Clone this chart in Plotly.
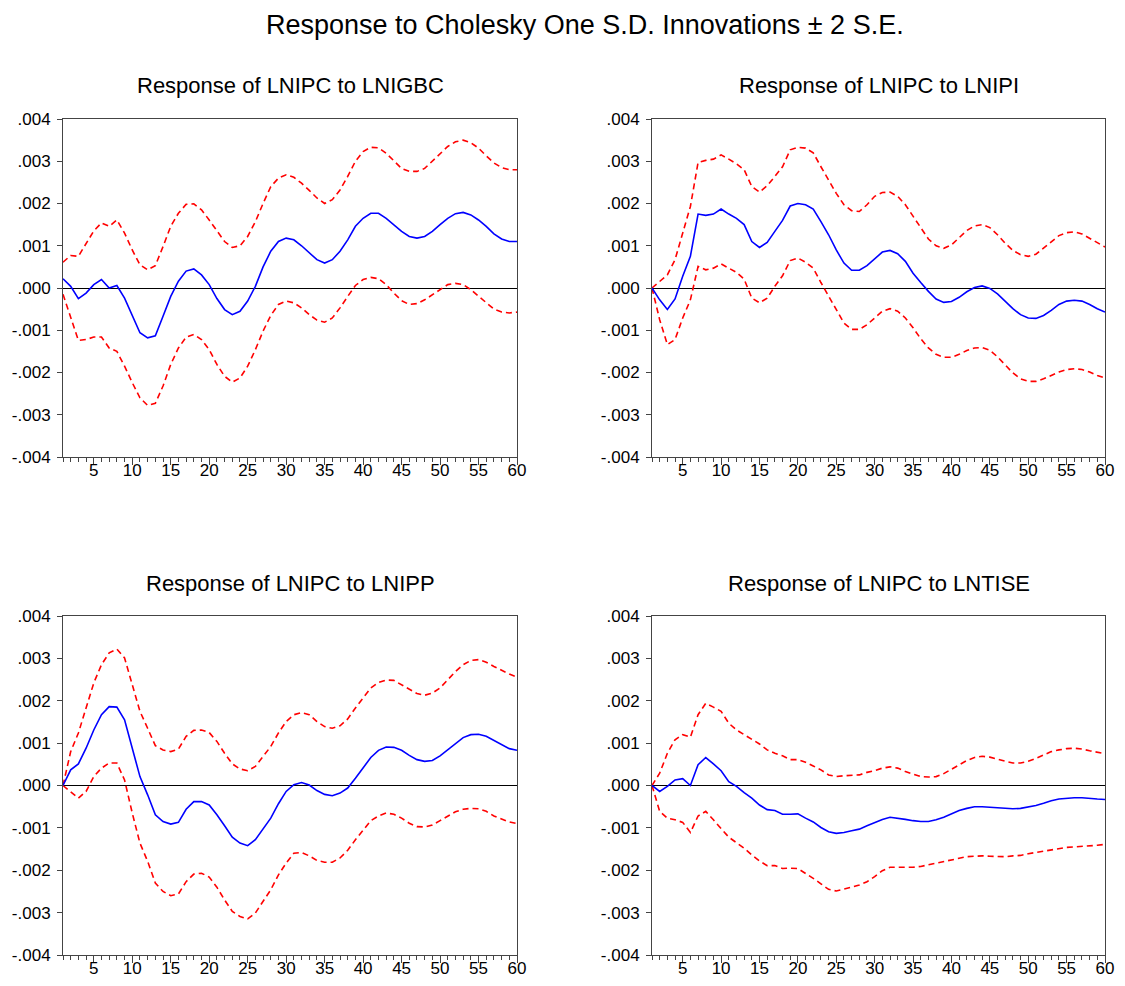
import plotly.graph_objects as go

periods = list(range(1, 61))

titles = ["Response of LNIPC to LNIGBC", "Response of LNIPC to LNIPI",
          "Response of LNIPC to LNIPP", "Response of LNIPC to LNTISE"]
main_title = "Response to Cholesky One S.D. Innovations \u00b1 2 S.E."

ytick_vals = [-0.004, -0.003, -0.002, -0.001, 0.0, 0.001, 0.002, 0.003, 0.004]
ytick_text = ["-.004", "-.003", "-.002", "-.001", ".000", ".001", ".002", ".003", ".004"]
xtick_vals = [5, 10, 15, 20, 25, 30, 35, 40, 45, 50, 55, 60]

p1_mid = [0.00022, 0.00004, -0.00025, -0.00012, 0.00008, 0.0002, 0.0, 0.00006, -0.00024, -0.00063,
          -0.00106, -0.00118, -0.00113, -0.00067, -0.0002, 0.00016, 0.0004, 0.00045, 0.00031, 0.00008,
          -0.00025, -0.00051, -0.00063, -0.00055, -0.00031, 0.00004, 0.0005, 0.00087, 0.0011, 0.00118,
          0.00114, 0.001, 0.00083, 0.00067, 0.00059, 0.00067, 0.00087, 0.00114, 0.00146, 0.00165,
          0.00177, 0.00177, 0.00165, 0.0015, 0.00134, 0.00122, 0.00118, 0.00122, 0.00134, 0.0015,
          0.00165, 0.00176, 0.00179, 0.00173, 0.00161, 0.00146, 0.00128, 0.00116, 0.0011, 0.0011]
p1_up = [0.00061, 0.00077, 0.00075, 0.00106, 0.00135, 0.00154, 0.00146, 0.00161, 0.0013, 0.0009,
         0.00055, 0.00043, 0.00053, 0.00098, 0.00146, 0.00177, 0.00198, 0.00199, 0.00185, 0.00161,
         0.00134, 0.0011, 0.00096, 0.001, 0.00122, 0.00157, 0.002, 0.0024, 0.0026, 0.00268,
         0.00262, 0.00248, 0.00231, 0.00213, 0.002, 0.00209, 0.00232, 0.00264, 0.003, 0.00323,
         0.00333, 0.00332, 0.00319, 0.003, 0.00283, 0.00276, 0.00276, 0.00283, 0.003, 0.00319,
         0.00335, 0.00346, 0.0035, 0.00344, 0.00331, 0.00313, 0.00296, 0.00285, 0.0028, 0.0028]
p1_lo = [-0.00015, -0.00067, -0.00124, -0.00122, -0.00116, -0.00116, -0.00142, -0.0015, -0.00185, -0.00224,
         -0.0026, -0.00278, -0.00273, -0.00232, -0.00181, -0.00142, -0.00116, -0.0011, -0.00122, -0.00146,
         -0.00181, -0.00209, -0.00223, -0.00213, -0.00185, -0.00146, -0.00102, -0.00065, -0.00039, -0.00031,
         -0.00035, -0.00047, -0.00063, -0.00076, -0.00081, -0.00071, -0.00047, -0.0002, 0.00006, 0.0002,
         0.00025, 0.00022, 0.00008, -0.00012, -0.0003, -0.00039, -0.00037, -0.00028, -0.00016, -0.00002,
         0.00008, 0.00011, 0.00008, -0.00004, -0.0002, -0.00035, -0.0005, -0.00057, -0.00059, -0.00057]

p2_mid = [0.0, -0.00028, -0.00051, -0.00026, 0.00028, 0.00075, 0.00175, 0.00172, 0.00175, 0.00187,
          0.00175, 0.00165, 0.0015, 0.0011, 0.00096, 0.00108, 0.00134, 0.0016, 0.00194, 0.002,
          0.00197, 0.00187, 0.00157, 0.00126, 0.0009, 0.00059, 0.00042, 0.00042, 0.00053, 0.00069,
          0.00085, 0.00089, 0.00081, 0.00063, 0.00035, 0.00013, -0.00008, -0.00026, -0.00034, -0.00032,
          -0.00022, -0.00009, 0.00001, 0.00005, -0.00001, -0.00014, -0.00031, -0.00049, -0.00063, -0.00071,
          -0.00072, -0.00065, -0.00053, -0.00039, -0.00031, -0.00029, -0.00031, -0.00039, -0.00049, -0.00057]
p2_up = [0.0, 0.00016, 0.00031, 0.00067, 0.0013, 0.00193, 0.00297, 0.00302, 0.00305, 0.00315,
         0.00305, 0.00294, 0.0028, 0.0024, 0.00227, 0.00242, 0.00264, 0.00287, 0.00327, 0.00333,
         0.00331, 0.0032, 0.00287, 0.00256, 0.00224, 0.00197, 0.00183, 0.00181, 0.00197, 0.00217,
         0.00226, 0.00227, 0.00217, 0.00197, 0.00169, 0.00142, 0.00116, 0.001, 0.00094, 0.00102,
         0.00118, 0.00136, 0.00147, 0.0015, 0.00143, 0.00126, 0.00106, 0.00089, 0.00079, 0.00075,
         0.0008, 0.00094, 0.0011, 0.00124, 0.00131, 0.00133, 0.00128, 0.00118, 0.00108, 0.00097]
p2_lo = [0.0, -0.00075, -0.00134, -0.00122, -0.00071, -0.00028, 0.00051, 0.00043, 0.00047, 0.00057,
         0.00047, 0.00037, 0.00021, -0.00024, -0.00035, -0.00024, 0.00004, 0.00029, 0.00065, 0.00071,
         0.00061, 0.00047, 0.00013, -0.0002, -0.00051, -0.00083, -0.00098, -0.00098, -0.00087, -0.00071,
         -0.00055, -0.00049, -0.00055, -0.00071, -0.00094, -0.0012, -0.00142, -0.00157, -0.00164, -0.00164,
         -0.00157, -0.00148, -0.00142, -0.00141, -0.00147, -0.00163, -0.00181, -0.00201, -0.00215, -0.00221,
         -0.00221, -0.00215, -0.00207, -0.00199, -0.00193, -0.00191, -0.00193, -0.00199, -0.00207, -0.00213]

p3_mid = [0.0, 0.00037, 0.00051, 0.00088, 0.00131, 0.00167, 0.00186, 0.00185, 0.00155, 0.00088,
          0.00021, -0.00022, -0.00069, -0.00085, -0.00091, -0.00087, -0.00056, -0.00038, -0.00038, -0.00046,
          -0.00069, -0.00095, -0.00122, -0.00136, -0.00142, -0.00128, -0.00103, -0.00077, -0.00043, -0.00014,
          0.00002, 0.00007, 0.00001, -0.00012, -0.00021, -0.00024, -0.00018, -0.00006, 0.00017, 0.00041,
          0.00066, 0.00083, 0.00091, 0.0009, 0.00083, 0.00071, 0.00061, 0.00057, 0.00059, 0.0007,
          0.00084, 0.001, 0.00113, 0.0012, 0.00121, 0.00116, 0.00106, 0.00096, 0.00087, 0.00083]
p3_up = [0.0, 0.0008, 0.00124, 0.00186, 0.00242, 0.00285, 0.00313, 0.00322, 0.00301, 0.00238,
         0.00175, 0.00135, 0.00094, 0.00084, 0.0008, 0.00086, 0.00116, 0.0013, 0.00131, 0.00125,
         0.00104, 0.00076, 0.00051, 0.00039, 0.00035, 0.00045, 0.00068, 0.00092, 0.00124, 0.00151,
         0.00167, 0.00172, 0.00167, 0.00151, 0.00139, 0.00135, 0.00141, 0.00157, 0.00183, 0.00206,
         0.0023, 0.00243, 0.00249, 0.00248, 0.00238, 0.00226, 0.00217, 0.00213, 0.00218, 0.0023,
         0.00249, 0.00269, 0.00285, 0.00295, 0.00297, 0.00291, 0.00281, 0.00271, 0.00263, 0.00256]
p3_lo = [0.0, -0.00014, -0.0003, -0.00014, 0.00021, 0.00041, 0.00053, 0.00053, 0.00013, -0.00065,
         -0.00136, -0.00179, -0.0023, -0.0025, -0.0026, -0.00256, -0.00227, -0.00209, -0.00207, -0.00216,
         -0.0024, -0.0027, -0.00297, -0.00309, -0.00315, -0.00301, -0.00274, -0.00246, -0.00211, -0.00183,
         -0.0016, -0.00158, -0.00166, -0.00177, -0.00181, -0.00181, -0.00171, -0.00153, -0.00128, -0.00105,
         -0.00083, -0.00072, -0.00065, -0.00068, -0.00077, -0.00089, -0.00097, -0.00098, -0.00093, -0.00083,
         -0.00072, -0.00062, -0.00056, -0.00054, -0.00055, -0.00061, -0.00072, -0.00079, -0.00086, -0.0009]

p4_mid = [0.0, -0.00014, -0.00002, 0.00013, 0.00016, 0.0, 0.00049, 0.00066, 0.00051, 0.00035,
          0.00009, -0.00002, -0.00017, -0.0003, -0.00046, -0.00057, -0.00059, -0.00068, -0.00068, -0.00067,
          -0.00077, -0.00086, -0.00099, -0.00109, -0.00113, -0.00111, -0.00107, -0.00103, -0.00095, -0.00087,
          -0.0008, -0.00075, -0.00077, -0.0008, -0.00083, -0.00085, -0.00085, -0.00081, -0.00075, -0.00067,
          -0.00059, -0.00054, -0.0005, -0.0005, -0.00051, -0.00053, -0.00054, -0.00055, -0.00054, -0.00051,
          -0.00047, -0.00042, -0.00036, -0.00032, -0.0003, -0.00029, -0.00029, -0.00031, -0.00032, -0.00033]
p4_up = [0.0, 0.00029, 0.00076, 0.00108, 0.0012, 0.00114, 0.00167, 0.00194, 0.00185, 0.00175,
         0.00147, 0.00131, 0.0012, 0.00109, 0.00098, 0.00084, 0.00076, 0.0007, 0.00061, 0.00061,
         0.00055, 0.00046, 0.00037, 0.00025, 0.00021, 0.00023, 0.00024, 0.00025, 0.00031, 0.00035,
         0.00041, 0.00044, 0.00041, 0.00033, 0.00027, 0.00021, 0.0002, 0.00021, 0.00028, 0.00039,
         0.00049, 0.00059, 0.00066, 0.00069, 0.00067, 0.00062, 0.00057, 0.00053, 0.00053, 0.00057,
         0.00064, 0.00072, 0.0008, 0.00084, 0.00087, 0.00088, 0.00086, 0.00082, 0.00078, 0.00075]
p4_lo = [0.0, -0.00061, -0.00077, -0.00081, -0.00087, -0.00111, -0.00072, -0.00061, -0.00081, -0.00101,
         -0.00122, -0.00135, -0.00148, -0.00164, -0.00178, -0.00189, -0.00189, -0.00196, -0.00195, -0.00196,
         -0.00207, -0.00219, -0.00232, -0.00245, -0.00249, -0.00245, -0.0024, -0.00235, -0.00227, -0.00215,
         -0.00201, -0.00193, -0.00193, -0.00193, -0.00193, -0.00191, -0.00187, -0.00183, -0.0018, -0.00176,
         -0.00171, -0.00168, -0.00167, -0.00166, -0.00167, -0.00168, -0.00168, -0.00166, -0.00165, -0.00161,
         -0.00158, -0.00155, -0.00152, -0.00149, -0.00146, -0.00145, -0.00144, -0.00142, -0.00141, -0.00139]

panels = [(p1_mid, p1_up, p1_lo), (p2_mid, p2_up, p2_lo),
          (p3_mid, p3_up, p3_lo), (p4_mid, p4_up, p4_lo)]

# the page body has an 8px margin; the figure is sized to fill the rest of the window
OFF = 8
W, H = 1125 - OFF, 986 - OFF
# pixel boxes in window coordinates (left, right, top, bottom)
boxes = [(63, 517, 119, 457), (652, 1105, 119, 457),
         (63, 517, 616, 955), (652, 1105, 616, 955)]


def fx(px):
    return (px - OFF) / W


def fy(py):
    return 1 - (py - OFF) / H


FONT = "Liberation Sans, Arial, sans-serif"

fig = go.Figure()
layout = dict(width=W, height=H, autosize=False, margin=dict(l=0, r=0, t=0, b=0, pad=0),
              paper_bgcolor="white", plot_bgcolor="white", showlegend=False)
annotations = []
for i, ((mid, up, lo), (l, r, t, b)) in enumerate(zip(panels, boxes)):
    n = i + 1
    xa = "x" if n == 1 else f"x{n}"
    ya = "y" if n == 1 else f"y{n}"
    for series, color, dash in ((up, "#ff0000", "6px,4px"), (lo, "#ff0000", "6px,4px"),
                                (mid, "#0000ff", "solid")):
        fig.add_trace(go.Scatter(x=periods, y=series, mode="lines", xaxis=xa, yaxis=ya,
                                 line=dict(color=color, width=1.6, dash=dash),
                                 hoverinfo="skip"))
    xkey = "xaxis" if n == 1 else f"xaxis{n}"
    ykey = "yaxis" if n == 1 else f"yaxis{n}"
    layout[xkey] = dict(domain=[fx(l), fx(r)], anchor=ya, range=[1, 60], automargin=False,
                        tickvals=xtick_vals, ticks="outside", ticklen=7, tickwidth=1,
                        tickcolor="#444", showgrid=False, zeroline=False,
                        showline=True, linecolor="#444", linewidth=1, mirror=True,
                        ticklabelstandoff=-9,
                        tickfont=dict(family=FONT, size=17, color="black"),
                        minor=dict(dtick=1, tick0=0, ticks="outside", ticklen=4,
                                   tickcolor="#444", tickwidth=1, showgrid=False))
    layout[ykey] = dict(domain=[fy(b), fy(t)], anchor=xa, range=[-0.004, 0.004],
                        automargin=False,
                        tickvals=ytick_vals, ticktext=ytick_text, ticks="outside",
                        ticklen=5, tickcolor="#444", showgrid=False,
                        zeroline=True, zerolinecolor="black", zerolinewidth=1,
                        showline=True, linecolor="#444", linewidth=1, mirror=True,
                        ticklabelstandoff=3,
                        tickfont=dict(family=FONT, size=17, color="black"))
    annotations.append(dict(text=titles[i], x=fx((l + r) / 2), y=fy(t - 33),
                            xref="paper", yref="paper", showarrow=False,
                            xanchor="center", yanchor="middle",
                            font=dict(family=FONT, size=22, color="black")))
annotations.append(dict(text=main_title, x=fx(585), y=fy(25), xref="paper", yref="paper",
                        showarrow=False, xanchor="center", yanchor="middle",
                        font=dict(family=FONT, size=27, color="black")))
layout["annotations"] = annotations
fig.update_layout(**layout)
fig.write_html("out.html")
